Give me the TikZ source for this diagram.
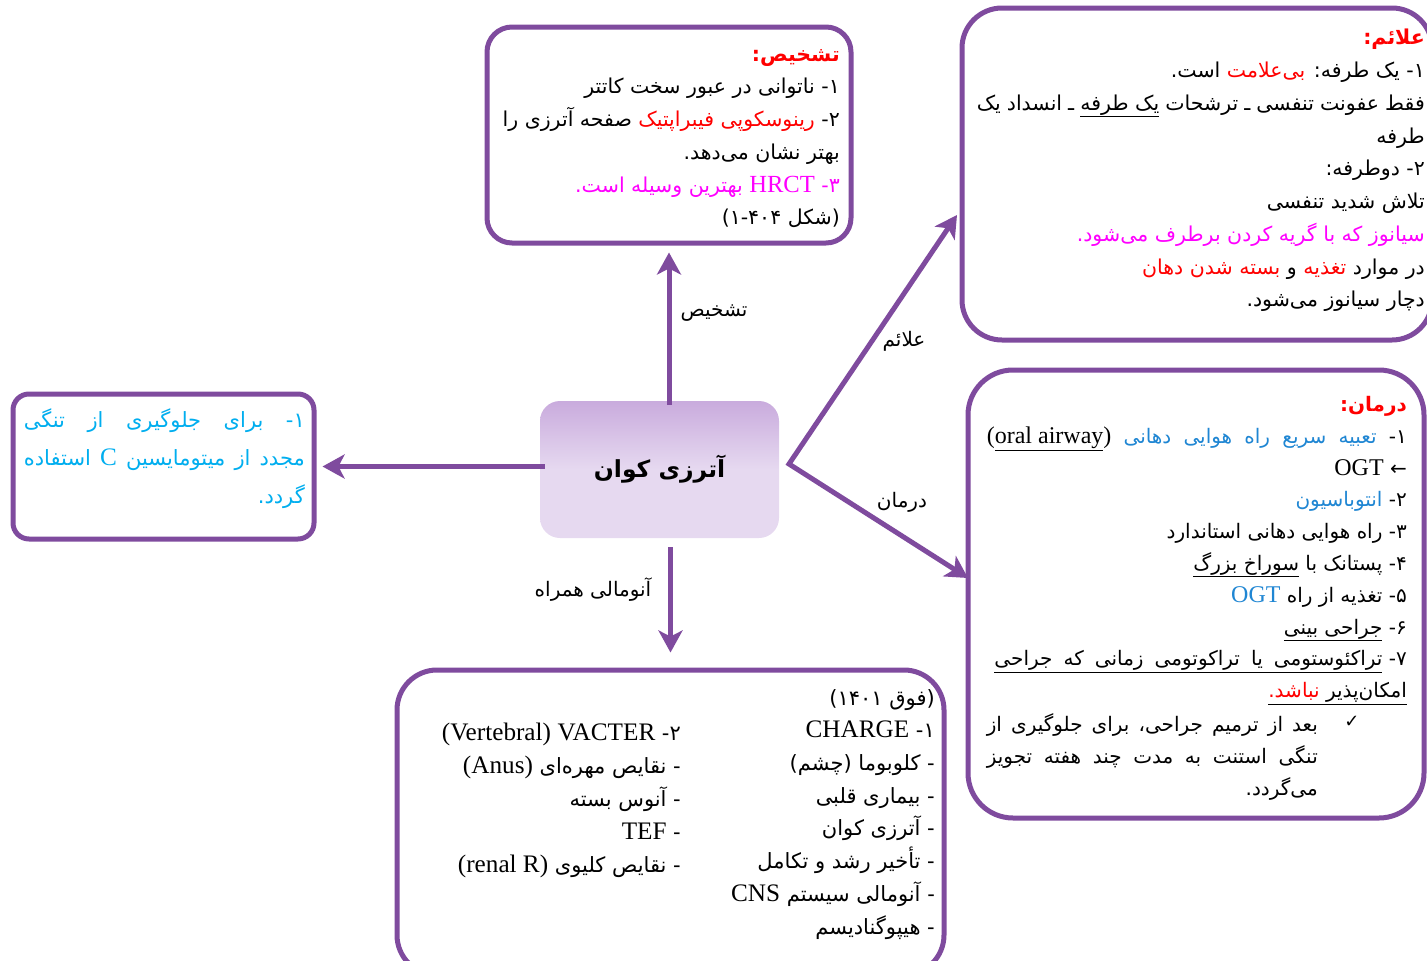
\documentclass[tikz,border=0pt]{standalone}
\usepackage{fontspec}
\usetikzlibrary{arrows.meta}
\TeXXeTstate=1
\newfontfamily\fa[Script=Arabic]{DejaVu Sans}
\newfontfamily\lat[Scale=1.2]{Liberation Serif}
\newfontfamily\symf{DejaVu Sans}
\definecolor{pur}{HTML}{7F4B9E}
\definecolor{cenA}{HTML}{C9ABDD}
\definecolor{cenB}{HTML}{E6D9F0}
\definecolor{myred}{HTML}{FF0000}
\definecolor{mag}{HTML}{FF00FF}
\definecolor{tblue}{HTML}{1F86D3}
\definecolor{cyanb}{HTML}{00AEEF}
% right-to-left line
\newcommand\rl[1]{\beginR#1\endR}
% latin run inside right-to-left text
\newcommand\lt[1]{\beginL{\lat #1}\endL}
% coloured run inside right-to-left text (specials are written in the order that the reversal turns right)
\newcommand\rc[2]{\special{color pop}#2\special{color push rgb #1}}
\newcommand\ulr[1]{\underline{\beginR#1\endR}}
\newcommand\nm[1]{#1\kern0pt-}
\tikzset{ptip/.tip={Stealth[length=22pt,width=24pt,inset=6pt]}}
\begin{document}
\begin{tikzpicture}[x=1pt,y=-1pt,
  box/.style={draw=pur,line width=5pt,rounded corners=#1,inner sep=0pt,fill=white},
  box/.default=25pt,
  arr/.style={draw=pur,line width=5pt,-ptip},
  arrB/.style={draw=pur,line width=5pt,ptip-ptip},
  txt/.style={inner sep=0pt,align=right,font=\fa\fontsize{20.5}{32.75}\selectfont},
  lbl/.style={inner sep=0pt,font=\fa\fontsize{20}{22}\selectfont},
  cen/.style={rounded corners=20pt,top color=cenA,bottom color=cenB,middle color=cenB,
    minimum width=239pt,minimum height=137pt,inner sep=0pt,
    font=\fa\bfseries\fontsize{23.5}{27}\selectfont}]
\useasboundingbox (0,0) rectangle (1427,961);
% boxes
\node[box=25pt,minimum width=364pt,minimum height=216pt] (diag) at (669,135) {};
\node[box=40pt,minimum width=470pt,minimum height=332pt] (symp) at (1197,174) {};
\node[box=45pt,minimum width=456pt,minimum height=448pt] (treat) at (1196,594) {};
\node[box=16pt,minimum width=301pt,minimum height=145pt] (leftb) at (163.5,466.5) {};
\node[box=40pt,minimum width=547pt,minimum height=305pt] (bottom) at (670.5,822.5) {};
\node[cen] (center) at (659.5,469.5) {\rl{آترزی کوان}};
% connectors
\coordinate (v) at (789,464);
\coordinate (sympIn) at (957,215);
\coordinate (treatIn) at (968,578);
\draw[arr,shorten <=-4pt,shorten >=7pt] (center.north -| diag.south) -- (diag.south);
\draw[arr,shorten <=9pt,shorten >=15pt] (center.south -| bottom.north) -- (bottom.north);
\draw[arr,shorten <=-5pt,shorten >=6pt] (center.west |- leftb.east) -- (leftb.east);
\draw[arrB] (sympIn) -- (v) -- (treatIn);
% connector labels
\node[lbl] (l1) at (714,313) {\rl{تشخیص}};
\node[lbl] (l2) at (904,341) {\rl{علائم}};
\node[lbl] (l3) at (902,502) {\rl{درمان}};
\node[lbl] (l4) at (593,590) {\rl{آنومالی همراه}};
% diagnosis text
\node[txt,anchor=north east] (diagT) at (840,49) {%
{\bfseries\color{myred}\rl{تشخیص:}}\\
\rl{\nm{۱} ناتوانی در عبور سخت کاتتر}\\
\rl{\nm{۲} \rc{1 0 0}{رینوسکوپی فیبراپتیک} صفحه آترزی را}\\
\rl{بهتر نشان می‌دهد.}\\
{\color{mag}\rl{\nm{۳} \lt{HRCT} بهترین وسیله است.}}\\
\rl{(شکل ۱-۴۰۴)}};
% symptoms text
\node[txt,anchor=north east] (sympT) at (1425,29) {%
{\bfseries\color{myred}\rl{علائم:}}\\
\rl{\nm{۱} یک طرفه: \rc{1 0 0}{بی‌علامت} است.}\\
\hbox to 448pt{\beginR فقط عفونت تنفسی ـ ترشحات \ulr{یک طرفه} ـ انسداد یک\endR}\\
\rl{طرفه}\\
\rl{\nm{۲} دوطرفه:}\\
\rl{تلاش شدید تنفسی}\\
{\color{mag}\rl{سیانوز که با گریه کردن برطرف می‌شود.}}\\
\rl{در موارد \rc{1 0 0}{تغذیه} و \rc{1 0 0}{بسته شدن دهان}}\\
\rl{دچار سیانوز می‌شود.}};
% treatment text
\node[txt,anchor=north east,font=\fa\fontsize{20}{31.8}\selectfont] (treatT) at (1407,396) {%
{\bfseries\color{myred}\rl{درمان:}}\\
\hbox to 420pt{\beginR\nm{۱} \rc{0.122 0.525 0.827}{تعبیه سریع راه هوایی دهانی} \lt{(\underline{oral airway})}\endR}\\
\rl{{\symf ←} \lt{OGT}}\\
\rl{\nm{۲} \rc{0.122 0.525 0.827}{انتوباسیون}}\\
\rl{\nm{۳} راه هوایی دهانی استاندارد}\\
\rl{\nm{۴} پستانک با \ulr{سوراخ بزرگ}}\\
\rl{\nm{۵} تغذیه از راه \rc{0.122 0.525 0.827}{\lt{OGT}}}\\
\rl{\nm{۶} \ulr{جراحی بینی}}\\
\rl{\nm{۷} \underline{\hbox to 388pt{\beginR تراکئوستومی یا تراکوتومی زمانی که جراحی\endR}}}\\
\rl{\ulr{امکان‌پذیر \rc{1 0 0}{نباشد.}}}};
\node[txt,anchor=north east,font=\fa\fontsize{20}{32}\selectfont] (treatN) at (1318,713) {%
\hbox to 331pt{\beginR بعد از ترمیم جراحی، برای جلوگیری از\endR}\\
\hbox to 331pt{\beginR تنگی استنت به مدت چند هفته تجویز\endR}\\
\rl{می‌گردد.}};
\node[inner sep=0pt,font=\symf\fontsize{18}{20}\selectfont] (check) at (1352,722) {✓};
% left box text
\node[txt,text=cyanb,anchor=north east,font=\fa\fontsize{21}{38}\selectfont] (leftT) at (305,408) {%
\hbox to 281pt{\beginR\nm{۱} برای جلوگیری از تنگی\endR}\\
\hbox to 281pt{\beginR مجدد از میتومایسین \lt{C} استفاده\endR}\\
\rl{گردد.}};
% bottom box text
\node[txt,anchor=north east,font=\fa\fontsize{21}{32.7}\selectfont] (botR) at (935,689) {%
\rl{(فوق ۱۴۰۱)}\\
\rl{\nm{۱} \lt{CHARGE}}\\
\rl{- کلوبوما (چشم)}\\
\rl{- بیماری قلبی}\\
\rl{- آترزی کوان}\\
\rl{- تأخیر رشد و تکامل}\\
\rl{- آنومالی سیستم \lt{CNS}}\\
\rl{- هیپوگنادیسم}};
\node[txt,anchor=north east,font=\fa\fontsize{21}{33}\selectfont] (botL) at (681,723) {%
\rl{\nm{۲} \lt{VACTER} \lt{(Vertebral)}}\\
\rl{- نقایص مهره‌ای \lt{(Anus)}}\\
\rl{- آنوس بسته}\\
\rl{- \lt{TEF}}\\
\rl{- نقایص کلیوی \lt{(renal R)}}};
\end{tikzpicture}
\end{document}
